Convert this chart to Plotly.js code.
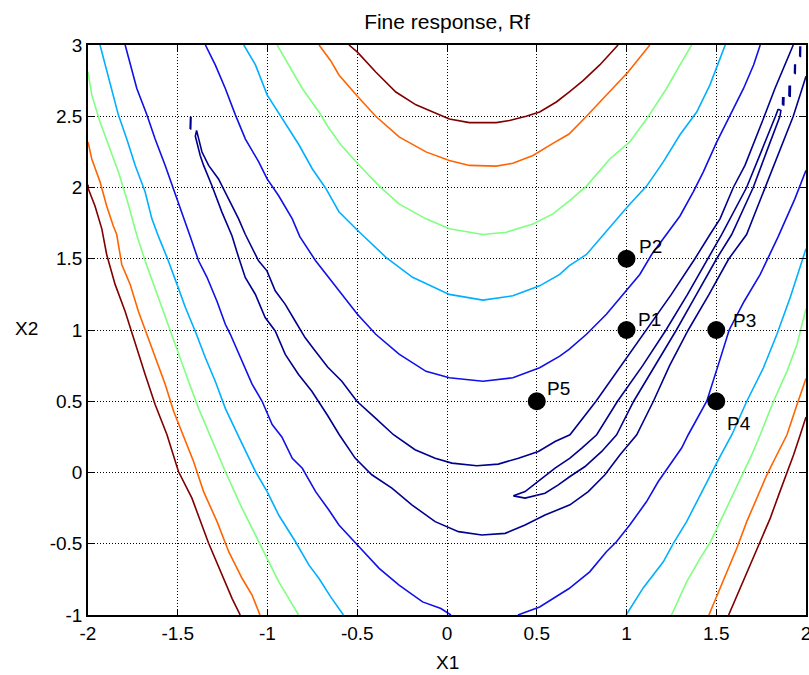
<!DOCTYPE html>
<html>
<head>
<meta charset="utf-8">
<script src="https://cdn.plot.ly/plotly-3.0.1.min.js"></script>
<style>html,body{margin:0;padding:0;background:#fff;}#chart{width:809px;height:675px;}</style>
</head>
<body>
<div id="chart"></div>
<script>
// ---- contour level colours ----
const levelColors = {
  darkred: '#800000',
  orange: '#FF6400',
  green: '#80FF80',
  cyan: '#00AFFF',
  blue: '#1010E8',
  navy: '#00008F'
};

// ---- dark red level ----
const darkRedUpperX = [-0.546,-0.499,-0.397,-0.285,-0.173,-0.061,0.013,0.125,0.274,0.348,0.441,0.516,0.609,0.68,0.758,0.851,0.953];
const darkRedUpperY = [3.0,2.95,2.81,2.67,2.58,2.52,2.48,2.455,2.455,2.47,2.50,2.53,2.60,2.67,2.75,2.86,3.0];
const darkRedLeftX = [-2.0,-1.998,-1.961,-1.923,-1.896,-1.849,-1.793,-1.737,-1.682,-1.626,-1.560,-1.496,-1.421,-1.328,-1.253,-1.197,-1.152];
const darkRedLeftY = [2.02,1.99,1.87,1.71,1.53,1.32,1.13,0.90,0.69,0.477,0.265,0.007,-0.18,-0.497,-0.72,-0.885,-1.0];
const darkRedRightX = [1.569,1.633,1.680,1.745,1.801,1.848,1.894,1.931,1.968,2.0];
const darkRedRightY = [-1.0,-0.81,-0.67,-0.486,-0.32,-0.157,-0.004,0.125,0.265,0.39];

// ---- orange level ----
const orangeUpperX = [-0.713,-0.648,-0.602,-0.499,-0.397,-0.267,-0.117,0.013,0.125,0.274,0.367,0.479,0.59,0.68,0.777,0.888,1.009,1.13];
const orangeUpperY = [3.0,2.89,2.79,2.64,2.50,2.355,2.25,2.19,2.155,2.15,2.17,2.225,2.31,2.375,2.50,2.65,2.81,3.0];
const orangeLeftX = [-2.0,-1.979,-1.933,-1.896,-1.859,-1.84,-1.812,-1.765,-1.719,-1.672,-1.626,-1.570,-1.523,-1.468,-1.412,-1.356,-1.281,-1.216,-1.141,-1.086,-1.042];
const orangeLeftY = [2.32,2.20,2.04,1.87,1.73,1.67,1.46,1.32,1.13,0.97,0.805,0.62,0.43,0.25,0.077,-0.134,-0.345,-0.556,-0.744,-0.86,-1.0];
const orangeRightX = [1.459,1.512,1.559,1.615,1.670,1.726,1.782,1.828,1.894,1.95,2.0];
const orangeRightY = [-1.0,-0.84,-0.70,-0.53,-0.345,-0.18,-0.016,0.10,0.265,0.477,0.66];

// ---- light green level ----
const greenUpperX = [-0.946,-0.881,-0.806,-0.713,-0.665,-0.592,-0.499,-0.378,-0.267,-0.117,0.013,0.20,0.33,0.479,0.59,0.68,0.777,0.907,1.018,1.112,1.223,1.298,1.363];
const greenUpperY = [3.0,2.86,2.695,2.53,2.43,2.30,2.17,2.01,1.885,1.78,1.71,1.67,1.686,1.744,1.815,1.905,2.01,2.20,2.32,2.48,2.695,2.86,3.0];
const greenLeftX = [-2.0,-1.979,-1.933,-1.887,-1.831,-1.784,-1.728,-1.682,-1.635,-1.588,-1.542,-1.486,-1.44,-1.384,-1.318,-1.235,-1.151,-1.049,-1.002,-0.937,-0.881,-0.827];
const greenLeftY = [2.81,2.65,2.46,2.30,2.11,1.92,1.665,1.486,1.32,1.16,0.99,0.805,0.64,0.45,0.25,0.007,-0.227,-0.486,-0.603,-0.768,-0.885,-1.0];
const greenRightX = [1.251,1.335,1.41,1.465,1.531,1.596,1.652,1.698,1.745,1.819,1.894,1.95,2.0];
const greenRightY = [-1.0,-0.767,-0.603,-0.493,-0.32,-0.145,0.0,0.125,0.265,0.50,0.71,0.90,1.15];

// ---- cyan level ----
const cyanUpperX = [-1.132,-1.067,-1.002,-0.918,-0.825,-0.75,-0.676,-0.602,-0.499,-0.34,-0.192,0.013,0.20,0.367,0.516,0.628,0.68,0.777,0.851,1.009,1.112,1.205,1.298,1.391,1.465,1.55];
const cyanUpperY = [3.0,2.86,2.65,2.48,2.30,2.13,1.995,1.83,1.70,1.51,1.37,1.25,1.21,1.24,1.31,1.39,1.45,1.53,1.64,1.87,2.01,2.18,2.37,2.53,2.72,3.0];
const cyanLeftX = [-1.933,-1.905,-1.868,-1.831,-1.784,-1.737,-1.682,-1.644,-1.607,-1.56,-1.504,-1.458,-1.402,-1.346,-1.291,-1.235,-1.16,-1.067,-1.002,-0.937,-0.844,-0.769,-0.713,-0.648,-0.577];
const cyanLeftY = [3.0,2.86,2.695,2.51,2.34,2.155,1.97,1.78,1.655,1.51,1.32,1.16,0.99,0.805,0.64,0.45,0.25,0.007,-0.134,-0.30,-0.486,-0.65,-0.744,-0.873,-1.0];
const cyanRightX = [0.998,1.093,1.205,1.261,1.335,1.41,1.475,1.512,1.587,1.67,1.763,1.838,1.912,1.968,2.0];
const cyanRightY = [-1.0,-0.81,-0.627,-0.497,-0.345,-0.157,0.007,0.09,0.265,0.50,0.735,0.97,1.228,1.44,1.57];

// ---- blue level ----
const blueUpperX = [-1.346,-1.291,-1.235,-1.179,-1.123,-1.049,-1.002,-0.937,-0.862,-0.82,-0.732,-0.66,-0.583,-0.499,-0.397,-0.267,-0.117,0.013,0.20,0.367,0.516,0.628,0.68,0.777,0.888,0.982,1.074,1.14,1.214,1.298,1.372,1.428,1.503,1.577,1.652,1.708,1.745];
const blueUpperY = [3.0,2.86,2.695,2.51,2.34,2.18,2.06,1.94,1.78,1.655,1.486,1.37,1.25,1.11,0.97,0.83,0.71,0.665,0.64,0.665,0.735,0.817,0.864,0.97,1.11,1.25,1.39,1.53,1.655,1.80,1.97,2.11,2.32,2.51,2.695,2.86,3.0];
const blueLeftX = [-1.793,-1.765,-1.728,-1.672,-1.626,-1.57,-1.523,-1.477,-1.43,-1.384,-1.337,-1.281,-1.235,-1.207,-1.141,-1.086,-1.03,-0.974,-0.92,-0.862,-0.806,-0.732,-0.66,-0.602,-0.499,-0.378,-0.267,-0.136,-0.034,0.022];
const blueLeftY = [3.0,2.86,2.695,2.51,2.34,2.155,1.99,1.83,1.655,1.486,1.37,1.20,1.04,0.97,0.78,0.62,0.50,0.336,0.25,0.10,0.03,-0.134,-0.26,-0.368,-0.509,-0.673,-0.791,-0.908,-0.955,-1.0];
const blueRightX = [0.395,0.516,0.68,0.795,0.888,0.944,1.018,1.112,1.177,1.242,1.307,1.344,1.447,1.51,1.572,1.655,1.745,1.845,1.938,2.0];
const blueRightY = [-1.0,-0.944,-0.814,-0.697,-0.556,-0.486,-0.368,-0.204,-0.063,0.054,0.172,0.265,0.50,0.75,1.0,1.2,1.39,1.655,1.92,2.12];

// ---- navy level: horseshoe (upper right arm -> left tip -> lower arm -> right edge) ----
const navyOuterX = [1.929,1.883,1.827,1.771,1.716,1.66,1.595,1.521,1.465,1.381,1.25,1.109,0.97,0.83,0.685,0.602,0.509,0.398,0.286,0.166,0.027,-0.066,-0.178,-0.298,-0.40,-0.502,-0.586,-0.665,-0.734,-0.79,-0.846,-0.901,-0.957,-1.003,-1.05,-1.124,-1.161,-1.217,-1.273,-1.328,-1.365,-1.385,-1.395,
  -1.402,-1.375,-1.356,-1.31,-1.254,-1.198,-1.161,-1.124,-1.068,-1.013,-0.957,-0.901,-0.827,-0.753,-0.665,-0.6,-0.512,-0.419,-0.307,-0.196,-0.066,0.064,0.194,0.324,0.435,0.546,0.685,0.787,0.88,0.964,1.057,1.15,1.24,1.344,1.46,1.57,1.669,1.771,1.85,1.929,1.975,2.0];
const navyOuterY = [3.0,2.86,2.695,2.51,2.34,2.155,2.0,1.78,1.67,1.5,1.25,1.0,0.75,0.5,0.265,0.218,0.148,0.10,0.059,0.047,0.066,0.10,0.16,0.265,0.383,0.50,0.641,0.74,0.852,0.945,1.063,1.18,1.275,1.415,1.486,1.672,1.78,1.92,2.06,2.155,2.249,2.35,2.40,
  2.36,2.225,2.155,2.014,1.827,1.662,1.51,1.369,1.251,1.087,0.993,0.829,0.688,0.57,0.40,0.265,0.101,-0.016,-0.11,-0.227,-0.345,-0.415,-0.439,-0.427,-0.368,-0.298,-0.227,-0.134,-0.016,0.125,0.265,0.5,0.75,1.0,1.25,1.5,1.67,2.0,2.25,2.5,2.68,2.78];

// ---- navy inner loop ----
const navyLoopX = [1.845,1.83,1.75,1.669,1.53,1.455,1.34,1.22,1.09,0.95,0.834,0.751,0.685,0.602,0.509,0.435,0.37,0.435,0.546,0.62,0.685,0.769,0.862,0.945,1.04,1.16,1.278,1.39,1.502,1.586,1.706,1.78,1.855,1.86,1.845];
const navyLoopY = [2.55,2.5,2.25,2.0,1.67,1.5,1.25,1.0,0.75,0.5,0.265,0.171,0.101,0.031,-0.063,-0.134,-0.164,-0.18,-0.145,-0.087,-0.028,0.042,0.148,0.265,0.5,0.75,1.0,1.25,1.5,1.67,2.0,2.25,2.5,2.54,2.55];

// ---- small navy islands ----
const islandXs = [[-1.431,-1.428,-1.426,-1.429,-1.431],[1.965,1.969,1.970,1.966,1.965],[1.936,1.940,1.941,1.937,1.936],[1.905,1.912,1.913,1.906,1.905],[1.869,1.876,1.877,1.870,1.869]];
const islandYs = [[2.41,2.41,2.49,2.49,2.41],[2.92,2.92,2.985,2.985,2.92],[2.80,2.80,2.86,2.86,2.80],[2.64,2.64,2.71,2.71,2.64],[2.58,2.58,2.63,2.63,2.58]];

// ---- marked points ----
const pointNames = ['P1','P2','P3','P4','P5'];
const pointX = [1, 1, 1.5, 1.5, 0.5];
const pointY = [1, 1.5, 1, 0.5, 0.5];
const labelShiftX = [9, 10, 15, 9, 8];
const labelShiftY = [11, 12, 10, -22, 13];

// ---- axes ticks ----
const xTicks = [-2,-1.5,-1,-0.5,0,0.5,1,1.5,2];
const xTickText = ['-2','-1.5','-1','-0.5','0','0.5','1','1.5','2'];
const yTicks = [-1,-0.5,0,0.5,1,1.5,2,2.5,3];
const yTickText = ['-1','-0.5','0','0.5','1','1.5','2','2.5','3'];

const FONT = 'Liberation Sans, Arial, Helvetica, sans-serif';

function line(x, y, color, w) {
  return {type:'scatter', mode:'lines', x:x, y:y, hoverinfo:'skip',
          line:{color:color, width:w || 1.6}, showlegend:false};
}

const traces = [
  line(darkRedUpperX, darkRedUpperY, levelColors.darkred),
  line(darkRedLeftX, darkRedLeftY, levelColors.darkred),
  line(darkRedRightX, darkRedRightY, levelColors.darkred),
  line(orangeUpperX, orangeUpperY, levelColors.orange),
  line(orangeLeftX, orangeLeftY, levelColors.orange),
  line(orangeRightX, orangeRightY, levelColors.orange),
  line(greenUpperX, greenUpperY, levelColors.green),
  line(greenLeftX, greenLeftY, levelColors.green),
  line(greenRightX, greenRightY, levelColors.green),
  line(cyanUpperX, cyanUpperY, levelColors.cyan),
  line(cyanLeftX, cyanLeftY, levelColors.cyan),
  line(cyanRightX, cyanRightY, levelColors.cyan),
  line(blueUpperX, blueUpperY, levelColors.blue),
  line(blueLeftX, blueLeftY, levelColors.blue),
  line(blueRightX, blueRightY, levelColors.blue),
  line(navyOuterX, navyOuterY, levelColors.navy),
  line(navyLoopX, navyLoopY, levelColors.navy)
];
islandXs.forEach((xs, i) => traces.push(line(xs, islandYs[i], levelColors.navy, 1.6)));

traces.push({type:'scatter', mode:'markers', x:pointX, y:pointY, hoverinfo:'skip', showlegend:false,
  marker:{color:'#000', size:18, line:{width:0}}});

const annotations = pointNames.map((n, i) => ({
  x: pointX[i], y: pointY[i], xref:'x', yref:'y', text:n, showarrow:false,
  xanchor:'left', yanchor:'middle', xshift:labelShiftX[i], yshift:labelShiftY[i],
  font:{family:FONT, size:19, color:'#000'}
}));
annotations.push({x:0.5, y:-0.083, xref:'paper', yref:'paper', text:'X1', showarrow:false,
  xanchor:'center', yanchor:'middle', font:{family:FONT, size:19, color:'#000'}});
annotations.push({x:-0.085, y:0.5035, xref:'paper', yref:'paper', text:'X2', showarrow:false,
  xanchor:'center', yanchor:'middle', font:{family:FONT, size:19, color:'#000'}});

const axisCommon = {
  showgrid:true, gridcolor:'#000', griddash:'1px,2px', gridwidth:1,
  zeroline:false, showline:true, linecolor:'#000', linewidth:1.8, mirror:'ticks',
  ticks:'inside', ticklen:6, tickwidth:1, tickcolor:'#000', ticklabeloverflow:'allow',
  tickfont:{family:FONT, size:19, color:'#000'}, tickmode:'array', fixedrange:true
};

const layout = {
  width:809, height:675,
  margin:{l:88, r:3, t:45, b:60},
  paper_bgcolor:'#fff', plot_bgcolor:'#fff',
  title:{text:'Fine response, Rf', x:0.5, xref:'paper', xanchor:'center', y:1-22/675, yref:'container', yanchor:'middle',
         font:{family:FONT, size:21, color:'#000'}},
  xaxis:Object.assign({}, axisCommon, {range:[-2,2], tickvals:xTicks, ticktext:xTickText}),
  yaxis:Object.assign({}, axisCommon, {range:[-1,3], tickvals:yTicks, ticktext:yTickText}),
  annotations:annotations,
  showlegend:false
};

Plotly.newPlot('chart', traces, layout, {staticPlot:true, displayModeBar:false});
</script>
</body>
</html>
